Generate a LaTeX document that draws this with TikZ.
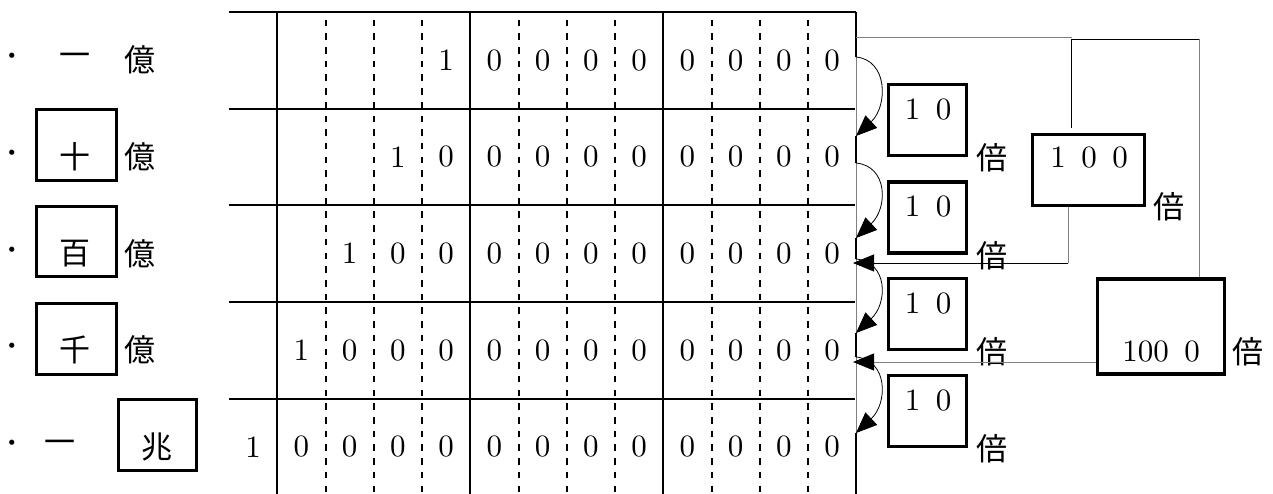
\documentclass[tikz,border=0pt]{standalone}
\usepackage{fontspec}
\newfontfamily\jpfont{Noto Sans CJK JP}
\newfontfamily\numfont{lmroman10-regular.otf}
\usetikzlibrary{arrows.meta}

\newcommand\digfont{\numfont\fontsize{31}{36}\selectfont}
\newcommand\kanjifont{\jpfont\fontsize{31}{36}\selectfont}

\begin{document}
\begin{tikzpicture}[
    x=1pt, y=-1pt,
    digit/.style={font=\digfont, inner sep=0pt},
    kanji/.style={font=\kanjifont, inner sep=0pt},
    kbox/.style={draw, line width=3.5pt, inner sep=0pt, minimum width=80pt, minimum height=71pt},
    tenbox/.style={kbox, minimum width=78pt},
    rule/.style={line width=2pt},
    dashrule/.style={line width=2pt, dash pattern=on 6.5pt off 7.2pt, dash phase=6pt},
    tip/.style={-{Triangle[length=21pt,width=17pt,color=black]}},
    link/.style={line width=0.9pt},
    glink/.style={line width=0.9pt, black!50},
]
\useasboundingbox (0,0) rectangle (1273,494);

% ---- place-value table ------------------------------------------------------
\foreach \y in {12,108.65,205.3,301.95,398.6}
  \draw[rule] (229,\y) -- (856,\y);
\foreach \c in {1,5,9,13}
  \draw[rule] (229+48.25*\c,12) -- (229+48.25*\c,494);
\foreach \c in {2,3,4,6,7,8,10,11,12}
  \draw[dashrule] (229+48.25*\c,12) -- (229+48.25*\c,494);

% ---- digits: a 1 followed by zeros, one place further left per row ----------
\foreach \r in {1,...,5} {
  \pgfmathtruncatemacro\lead{5-\r}
  \pgfmathtruncatemacro\rest{6-\r}
  \pgfmathsetmacro\ry{60.3+96.65*(\r-1)}
  \node[digit] (d\r-\lead) at (253.1+48.25*\lead,\ry) {1};
  \foreach \c in {\rest,...,12}
    \node[digit] (d\r-\c) at (253.1+48.25*\c,\ry) {0};
}

% ---- row names ----------------------------------------------------------------
\foreach \y [count=\i] in {60,157,254,350,447}
  \node[kanji] (dot\i) at (12,\y) {･};

\node[kanji] (ichi) at (75,60)  {一};
\node[kanji] (oku1) at (140,60) {億};

\node[kbox] (bjuu) at (76.5,145) {};
\node[kanji] (juu)  at (75,157)  {十};
\node[kanji] (oku2) at (140,157) {億};

\node[kbox, minimum height=70pt] (bhyaku) at (76.5,241.5) {};
\node[kanji] (hyaku) at (75,254)  {百};
\node[kanji] (oku3)  at (140,254) {億};

\node[kbox] (bsen) at (76.5,339) {};
\node[kanji] (sen)  at (75,350)  {千};
\node[kanji] (oku4) at (140,350) {億};

\node[kanji] (itchou) at (60,447) {一};
\node[kbox, minimum width=78pt] (bchou) at (157.5,435) {};
\node[kanji] (chou) at (157,447) {兆};

% ---- x10 steps between neighbouring rows -------------------------------------
\foreach \i/\a/\b in {1/57/136, 2/163/238, 3/259/333, 4/357/433} {
  \coordinate (s\i) at (856,\a);
  \coordinate (e\i) at (856,\b);
  \draw[white, line width=2.6pt] (s\i) -- (e\i);
  \draw[glink] (s\i) -- (e\i);
  \draw[tip, line width=0.8pt] (s\i) .. controls +(32,3) and +(32,-30) .. (e\i);
}

\foreach \y [count=\i] in {120,217.5,314,411} {
  \node[tenbox] (bten\i) at (927.5,\y) {};
  \node[digit] (ten\i) at (928,\y-10.5) {1\enspace0};
  \node[kanji] (bai\i) at (992,\y+38) {倍};
}

% ---- x100 and x1000 boxes -----------------------------------------------------
\node[kbox, minimum width=112pt] (bhund) at (1088.5,170) {};
\node[digit] (hund) at (1089,158) {1\enspace0\enspace0};
\node[kanji] (baih) at (1169,207) {倍};

\node[kbox, minimum width=127pt, minimum height=95pt] (bthou) at (1161,326.5) {};
\node[digit] (thou) at (1161,352) {100\enspace0};
\node[kanji] (bait) at (1248,352) {倍};

% ---- long connectors ------------------------------------------------------------
\coordinate (o1) at (856,37);
\coordinate (j0) at (1072,37);
\coordinate (j1) at (1071,39);
\coordinate (j2) at (1199,39);
\coordinate (j3) at (1071,128);
\coordinate (k1) at (1068,263);
\coordinate (a3) at (853,263);
\coordinate (a4) at (853,362);

\draw[glink] (o1) -- (j0);
\draw[link] (j3) -- (j1) -- (j2);
\draw[glink] (j2) -- (bthou.north -| j2);
\draw[glink] (bhund.south -| k1) -- (k1);
\draw[link, tip] (k1) -- (a3);
\draw[glink, tip] (bthou.west |- a4) -- (a4);

\end{tikzpicture}
\end{document}
